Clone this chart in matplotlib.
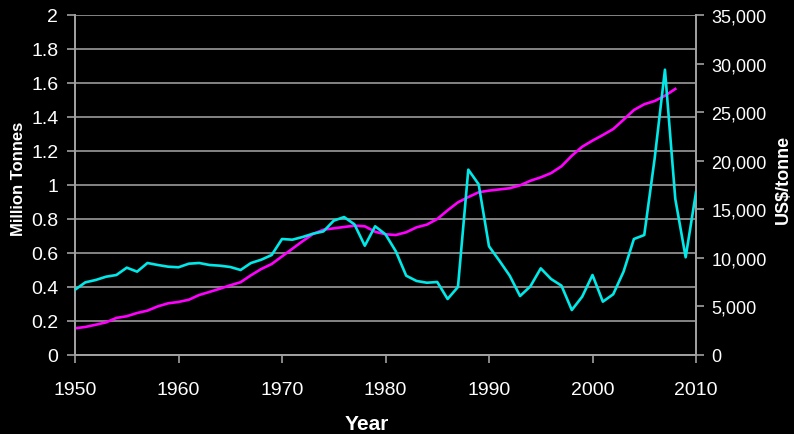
import matplotlib
matplotlib.use("Agg")
import matplotlib.pyplot as plt
from matplotlib.ticker import FuncFormatter

years_tonnes = list(range(1950, 2009))
million_tonnes = [0.157, 0.165, 0.178, 0.192, 0.218, 0.228, 0.247, 0.261, 0.286, 0.304,
                  0.312, 0.325, 0.353, 0.371, 0.390, 0.410, 0.428, 0.469, 0.506, 0.535,
                  0.580, 0.625, 0.670, 0.712, 0.737, 0.745, 0.753, 0.761, 0.757, 0.725,
                  0.710, 0.706, 0.722, 0.751, 0.767, 0.800, 0.851, 0.898, 0.929, 0.957,
                  0.967, 0.974, 0.981, 0.998, 1.025, 1.045, 1.070, 1.110, 1.172, 1.225,
                  1.261, 1.294, 1.329, 1.384, 1.441, 1.475, 1.494, 1.525, 1.565]

years_price = list(range(1950, 2011))
price_usd = [6720, 7480, 7720, 8060, 8235, 8990, 8580, 9470, 9265, 9090,
             9030, 9400, 9470, 9265, 9195, 9060, 8750, 9470, 9810, 10290,
             11940, 11870, 12150, 12490, 12720, 13830, 14200, 13450, 11250, 13250,
             12420, 10670, 8165, 7620, 7440, 7515, 5765, 7000, 19080, 17570,
             11190, 9710, 8165, 6070, 7070, 8920, 7820, 7140, 4630, 6000,
             8235, 5490, 6250, 8580, 11940, 12350, 20180, 29370, 16060, 10060,
             16750]

left_ticks = [0, 0.2, 0.4, 0.6, 0.8, 1.0, 1.2, 1.4, 1.6, 1.8, 2.0]
left_labels = ["0", "0.2", "0.4", "0.6", "0.8", "1", "1.2", "1.4", "1.6", "1.8", "2"]
right_ticks = list(range(0, 35001, 5000))
x_ticks = list(range(1950, 2011, 10))

narrow = ["Liberation Sans Narrow", "Liberation Sans", "DejaVu Sans"]
normal = ["Liberation Sans", "DejaVu Sans"]
grid_c = "#9a9a9a"
axis_c = "#a0a0a0"

fig = plt.figure(figsize=(7.94, 4.35), dpi=100, facecolor="black")
ax = fig.add_axes([75/794, 79/435, 621/794, 340/435])
ax.set_facecolor("black")
ax2 = ax.twinx()

ax.set_xlim(1950, 2010)
ax.set_ylim(0, 2)
ax2.set_ylim(0, 35000)

ax.set_yticks(left_ticks)
ax.set_yticklabels(left_labels)
ax.set_xticks(x_ticks)
ax2.set_yticks(right_ticks)
ax2.yaxis.set_major_formatter(FuncFormatter(lambda v, p: f"{int(v):,}"))

ax.grid(axis="y", color=grid_c, linewidth=1.2)
ax.grid(axis="x", visible=False)
ax.set_axisbelow(True)

for a in (ax, ax2):
    for s in a.spines.values():
        s.set_color(axis_c)
        s.set_linewidth(1.3)
    a.spines["top"].set_visible(False)

ax.tick_params(axis="x", colors=axis_c, length=6, width=1.2, direction="out", pad=13,
               labelcolor="white", labelsize=14)
ax.tick_params(axis="y", colors=axis_c, length=6, width=1.2, direction="out", pad=6,
               labelcolor="white", labelsize=14)
ax2.tick_params(axis="y", colors=axis_c, length=6, width=1.2, direction="out", pad=5,
                labelcolor="white", labelsize=13)
for lab in ax.get_xticklabels():
    lab.set_family(narrow)
for lab in ax.get_yticklabels():
    lab.set_family(narrow)
for lab in ax2.get_yticklabels():
    lab.set_family(normal)

ax.plot(years_tonnes, million_tonnes, color="#ff00ff", linewidth=1.9, zorder=3)
ax2.plot(years_price, price_usd, color="#00e8e8", linewidth=1.9, zorder=3)

ax.set_xlabel("Year", color="white", fontsize=15, fontweight="bold", family=narrow)
ax.set_ylabel("Million Tonnes", color="white", fontsize=12, fontweight="bold", family=normal)
ax2.set_ylabel("US$/tonne", color="white", fontsize=13, fontweight="bold", family=normal)
ax.xaxis.set_label_coords(0.47, -0.175)
ax.yaxis.set_label_coords(-0.079, 0.52)
ax2.yaxis.set_label_coords(1.127, 0.52)

fig.savefig("out.png", dpi=100, facecolor="black")
